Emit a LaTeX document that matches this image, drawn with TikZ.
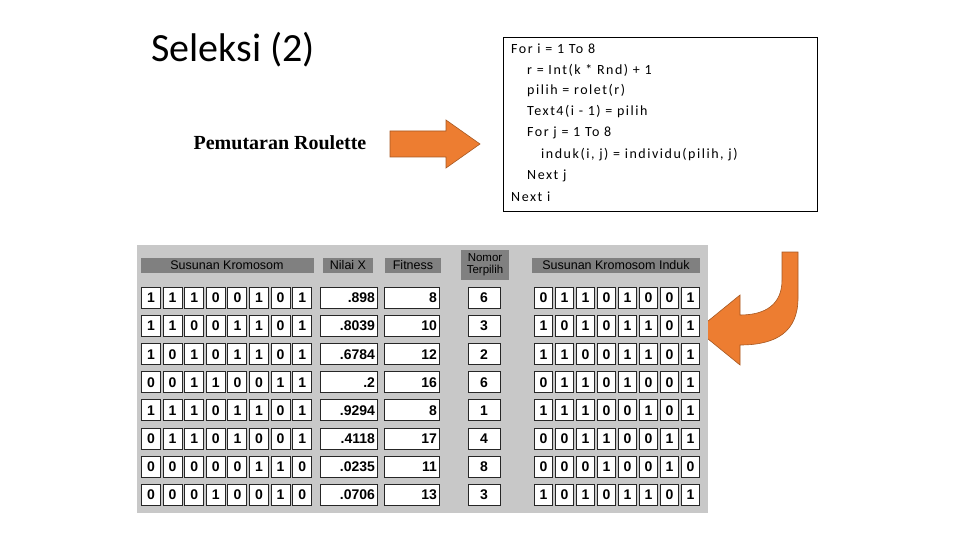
\documentclass[tikz,border=0pt]{standalone}
\usepackage{fontspec}
\setmainfont{Carlito}
\newfontfamily\codefont[LetterSpace=11]{Carlito}
\newfontfamily\tabfont{Liberation Sans}
\newfontfamily\serifb{Liberation Serif}
\definecolor{orng}{HTML}{ED7D31}
\definecolor{panel}{HTML}{C8C8C8}
\definecolor{hdr}{HTML}{808080}
\begin{document}
\begin{tikzpicture}[x=1pt,y=-1pt,
 cell/.style={draw=black!85,fill=white,line width=1pt,minimum height=21pt,inner sep=0pt,font=\tabfont\bfseries\fontsize{14}{14}\selectfont},
 hdrbox/.style={fill=hdr,inner sep=0pt,minimum height=15pt,font=\tabfont\fontsize{12.5}{12.5}\selectfont},
 arr/.style={fill=orng,draw=orng!70!black,line width=0.6pt},
 codeline/.style={anchor=west,inner sep=0pt,font=\codefont\fontsize{14}{14}\selectfont}]
\useasboundingbox (0,0) rectangle (960,540);
\node[anchor=west,inner sep=0pt,font=\fontsize{40}{40}\selectfont] (title) at (151,50) {Seleksi (2)};
\node[inner sep=0pt,font=\serifb\bfseries\fontsize{20}{20}\selectfont] (pr) at (280,143) {Pemutaran Roulette};
\draw[arr] (390,131) -- (446,131) -- (446,120) -- (480,144) -- (446,168) -- (446,157) -- (390,157) -- cycle;
\node[draw=black,line width=0.8pt,minimum width=314pt,minimum height=174pt,inner sep=0pt] (code) at (660,124) {};
\node[codeline] (c1) at (511,49) {For i = 1 To 8};
\node[codeline] (c2) at (527,70) {r = Int(k * Rnd) + 1};
\node[codeline] (c3) at (527,91) {pilih = rolet(r)};
\node[codeline] (c4) at (527,112) {Text4(i - 1) = pilih};
\node[codeline] (c5) at (527,133) {For j = 1 To 8};
\node[codeline] (c6) at (541,155) {induk(i, j) = individu(pilih, j)};
\node[codeline] (c7) at (527,176) {Next j};
\node[codeline] (c8) at (511,197) {Next i};
\draw[arr] (782,252) -- (798,252) -- (798,298) .. controls (798,332) and (776,345) .. (740,345) -- (740,365) -- (697,330) -- (740,295) -- (740,315) .. controls (766,315) and (782,304) .. (782,280) -- cycle;
\fill[panel] (137,245) rectangle (708,513);
\node[hdrbox,minimum width=173pt] (h1) at (227,265) {Susunan Kromosom};
\node[hdrbox,minimum width=50pt] (h2) at (348,265) {Nilai X};
\node[hdrbox,minimum width=56pt] (h3) at (413,265) {Fitness};
\node[hdrbox,minimum width=48pt,minimum height=30pt,align=center,font=\tabfont\fontsize{11.5}{12}\selectfont] (h4) at (485,265) {Nomor\\Terpilih};
\node[hdrbox,minimum width=168pt] (h5) at (616,265) {Susunan Kromosom Induk};
\foreach \chr/\nx/\fit/\nom/\ind [count=\r from 0] in {
 {1,1,1,0,0,1,0,1}/.898/8/6/{0,1,1,0,1,0,0,1},
 {1,1,0,0,1,1,0,1}/.8039/10/3/{1,0,1,0,1,1,0,1},
 {1,0,1,0,1,1,0,1}/.6784/12/2/{1,1,0,0,1,1,0,1},
 {0,0,1,1,0,0,1,1}/.2/16/6/{0,1,1,0,1,0,0,1},
 {1,1,1,0,1,1,0,1}/.9294/8/1/{1,1,1,0,0,1,0,1},
 {0,1,1,0,1,0,0,1}/.4118/17/4/{0,0,1,1,0,0,1,1},
 {0,0,0,0,0,1,1,0}/.0235/11/8/{0,0,0,1,0,0,1,0},
 {0,0,0,1,0,0,1,0}/.0706/13/3/{1,0,1,0,1,1,0,1}}{
  \pgfmathsetmacro{\yy}{298+28.1*\r}
  \foreach \b [count=\k from 0] in \chr {
    \node[cell,minimum width=19pt] (a\r-\k) at ({151+21.6*\k},\yy) {\b};
  }
  \node[cell,minimum width=57pt,text width=52pt,align=right] (x\r) at (349,\yy) {\nx};
  \node[cell,minimum width=55pt,text width=50pt,align=right] (f\r) at (412,\yy) {\fit};
  \node[cell,minimum width=32pt] (n\r) at (484,\yy) {\nom};
  \foreach \b [count=\k from 0] in \ind {
    \node[cell,minimum width=18.5pt] (b\r-\k) at ({543.5+21*\k},\yy) {\b};
  }
}
\end{tikzpicture}
\end{document}
